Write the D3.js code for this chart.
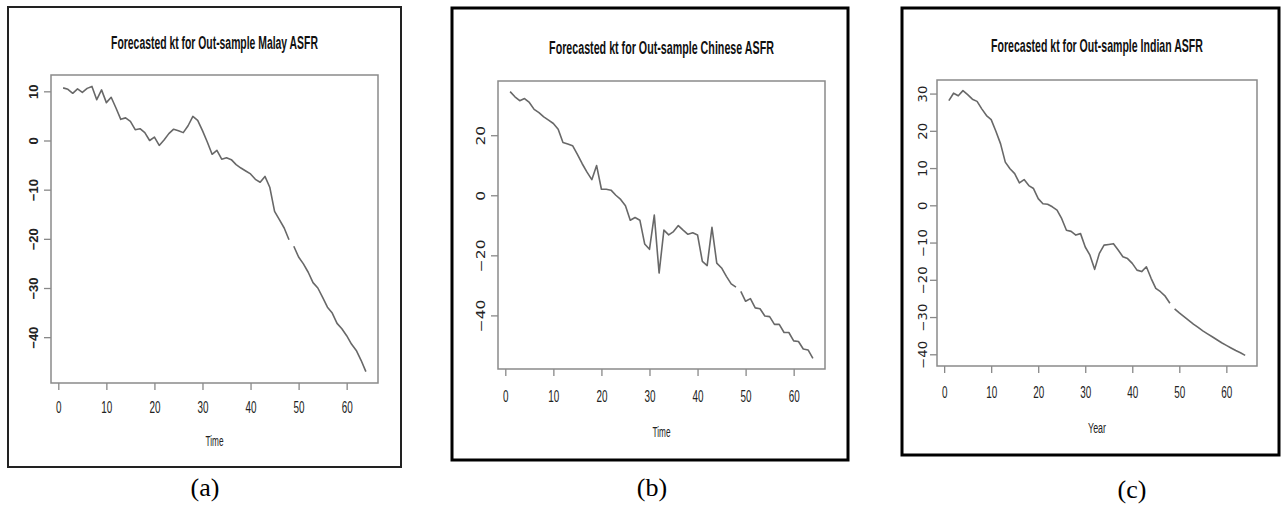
<!doctype html>
<html>
<head>
<meta charset="utf-8">
<title>Forecasted kt for Out-sample ASFR</title>
<script src="https://d3js.org/d3.v7.min.js"></script>
<style>
  body { margin: 0; background: #fff; }
  svg { display: block; }
</style>
</head>
<body>
<svg width="1281" height="506"></svg>
<script>
// kt values: in-sample part is t = 1..48, forecast part is t = 49..64
const malayActual = [10.7, 10.4, 9.6, 10.5, 9.8, 10.6, 11.0, 8.3, 10.3, 7.7, 8.8, 6.6,
  4.3, 4.6, 3.9, 2.2, 2.4, 1.6, 0.0, 0.7, -1.0, 0.1, 1.4, 2.3,
  2.0, 1.6, 3.0, 4.9, 4.1, 2.0, -0.3, -2.8, -2.0, -3.8, -3.5, -3.9,
  -4.9, -5.6, -6.2, -6.8, -7.9, -8.5, -7.3, -9.5, -14.4, -16.1, -17.8, -20.2];
const malayForecast = [-21.5, -23.7, -25.1, -26.8, -28.9, -30.0, -31.9, -33.9,
  -35.1, -37.2, -38.3, -39.7, -41.4, -42.7, -44.7, -47.0];

const chineseActual = [34.5, 32.8, 31.5, 32.2, 30.9, 28.6, 27.5, 26.1, 25.0, 23.9, 22.0, 17.6,
  17.1, 16.5, 13.6, 10.5, 7.7, 5.2, 9.9, 2.0, 2.0, 1.7, 0.0, -1.4,
  -3.5, -8.3, -7.4, -8.3, -16.2, -18.0, -6.6, -25.9, -11.6, -13.2, -12.1, -10.1,
  -11.6, -13.0, -12.5, -13.2, -22.0, -23.4, -10.7, -22.6, -24.2, -27.0, -29.5, -30.6];
const chineseForecast = [-32.0, -35.3, -34.4, -37.5, -37.8, -40.2, -40.4, -43.0,
  -43.0, -45.7, -45.7, -48.5, -48.7, -51.2, -51.5, -54.3];

const indianActual = [28.1, 30.1, 29.4, 30.8, 29.7, 28.5, 27.9, 25.9, 24.1, 23.0, 19.9, 16.5,
  11.6, 9.8, 8.5, 6.0, 6.9, 5.3, 4.5, 1.8, 0.4, 0.3, -0.4, -1.3,
  -3.6, -6.7, -7.0, -8.0, -7.6, -11.2, -13.4, -17.2, -12.9, -10.7, -10.5, -10.3,
  -12.0, -13.8, -14.3, -15.6, -17.4, -17.8, -16.5, -19.6, -22.3, -23.2, -24.4, -26.3];
const indianForecast = [-27.8, -28.9, -29.9, -30.9, -31.9, -32.8, -33.7, -34.5,
  -35.3, -36.1, -36.9, -37.6, -38.3, -39.0, -39.6, -40.3];

const xTicks = [0, 10, 20, 30, 40, 50, 60];
const malayYTicks = [-40, -30, -20, -10, 0, 10];
const chineseYTicks = [-40, -20, 0, 20];
const indianYTicks = [-40, -30, -20, -10, 0, 10, 20, 30];

const titles = ["Forecasted kt for Out-sample Malay ASFR",
  "Forecasted kt for Out-sample Chinese ASFR",
  "Forecasted kt for Out-sample Indian ASFR"];
const xLabels = ["Time", "Time", "Year"];
const captions = ["(a)", "(b)", "(c)"];

// page layout of the three panels
const panels = [
  {actual: malayActual, forecast: malayForecast, yTicks: malayYTicks,
   frame: [8, 7, 393, 460], frameW: 2, frameC: "#222",
   box: [51, 75, 378, 383], titleY: 49, titleW: 207,
   tickLabY: 30, xLabY: 446, yLabX: 33, yFont: "Liberation Sans", yWeight: "bold", yFs: 13, yStretch: 1.0,
   capX: 205, capY: 496},
  {actual: chineseActual, forecast: chineseForecast, yTicks: chineseYTicks,
   frame: [452, 8, 396, 452], frameW: 3, frameC: "#000",
   box: [498, 81, 825, 369], titleY: 54, titleW: 225,
   tickLabY: 33, xLabY: 437, yLabX: 481, yFont: "DejaVu Sans", yWeight: "normal", yFs: 11.5, yStretch: 1.35,
   capX: 652, capY: 496},
  {actual: indianActual, forecast: indianForecast, yTicks: indianYTicks,
   frame: [902, 8, 377, 447], frameW: 3, frameC: "#000",
   box: [937, 80, 1257, 366], titleY: 52, titleW: 212,
   tickLabY: 32, xLabY: 433, yLabX: 923, yFont: "DejaVu Sans", yWeight: "normal", yFs: 11.5, yStretch: 1.15,
   capX: 1132, capY: 498}
];

const svg = d3.select("svg");

// squeeze a text horizontally to a given width (the plots look narrowed)
function squeeze(sel, w) {
  const natural = sel.node().getComputedTextLength();
  sel.attr("transform", "scale(" + (w / natural) + ",1)");
}

panels.forEach(function(p, k) {
  const g = svg.append("g");
  const [bx0, by0, bx1, by1] = p.box;

  // outer frame
  g.append("rect")
    .attr("x", p.frame[0]).attr("y", p.frame[1])
    .attr("width", p.frame[2]).attr("height", p.frame[3])
    .attr("fill", "none")
    .attr("stroke", p.frameC)
    .attr("stroke-width", p.frameW);

  // R style domains: data range padded by 4%
  const n = p.actual.length + p.forecast.length;
  const xPad = 0.04 * (n - 1);
  const x = d3.scaleLinear().domain([1 - xPad, n + xPad]).range([bx0, bx1]);
  const ext = d3.extent(p.actual.concat(p.forecast));
  const yPad = 0.04 * (ext[1] - ext[0]);
  const y = d3.scaleLinear().domain([ext[0] - yPad, ext[1] + yPad]).range([by1, by0]);

  // x axis
  const xa = g.append("g")
    .attr("transform", "translate(0," + by1 + ")")
    .call(d3.axisBottom(x).tickValues(xTicks).tickSize(7).tickSizeOuter(0));
  xa.select(".domain").remove();
  xa.selectAll("line").attr("stroke", "#888").attr("stroke-width", 1.3);
  xa.selectAll("text")
    .attr("y", p.tickLabY)
    .attr("dy", null)
    .attr("transform", "scale(0.6,1)")
    .attr("fill", "#222")
    .style("font-family", "Liberation Sans, Arial, sans-serif")
    .style("font-size", "16.5px");

  // y axis
  const ya = g.append("g")
    .attr("transform", "translate(" + bx0 + ",0)")
    .call(d3.axisLeft(y).tickValues(p.yTicks).tickSize(7).tickSizeOuter(0));
  ya.select(".domain").remove();
  ya.selectAll("line").attr("stroke", "#888").attr("stroke-width", 1.3);
  ya.selectAll("text")
    .attr("x", null)
    .attr("dy", "0.36em")
    .attr("text-anchor", "middle")
    .attr("transform", "translate(" + (p.yLabX - bx0) + ",0) rotate(-90) scale(" + p.yStretch + ",1)")
    .attr("fill", "#222")
    .style("font-family", p.yFont + ", sans-serif")
    .style("font-weight", p.yWeight)
    .style("font-size", p.yFs + "px");

  // plot box
  g.append("rect")
    .attr("x", bx0).attr("y", by0)
    .attr("width", bx1 - bx0).attr("height", by1 - by0)
    .attr("fill", "none")
    .attr("stroke", "#8a8a8a")
    .attr("stroke-width", 1.5);

  // series: in-sample and forecast drawn as separate lines
  const line = d3.line()
    .x(d => x(d.t))
    .y(d => y(d.v));
  const actualPts = p.actual.map((v, i) => ({t: i + 1, v: v}));
  const forecastPts = p.forecast.map((v, i) => ({t: p.actual.length + i + 1, v: v}));
  [actualPts, forecastPts].forEach(function(pts) {
    g.append("path")
      .datum(pts)
      .attr("d", line)
      .attr("fill", "none")
      .attr("stroke", "#686868")
      .attr("stroke-width", 1.6)
      .attr("stroke-linejoin", "round");
  });

  const cx = (bx0 + bx1) / 2;

  // title
  const title = g.append("g")
    .attr("transform", "translate(" + cx + "," + p.titleY + ")")
    .append("text")
    .attr("text-anchor", "middle")
    .style("font-family", "Liberation Sans, Arial, sans-serif")
    .style("font-weight", "bold")
    .style("font-size", "19px")
    .attr("fill", "#111")
    .text(titles[k]);
  squeeze(title, p.titleW);

  // x label
  const xl = g.append("g")
    .attr("transform", "translate(" + cx + "," + p.xLabY + ")")
    .append("text")
    .attr("text-anchor", "middle")
    .style("font-family", "Liberation Sans, Arial, sans-serif")
    .style("font-size", "15px")
    .attr("fill", "#222")
    .text(xLabels[k]);
  squeeze(xl, 18);

  // caption under the frame
  svg.append("text")
    .attr("x", p.capX).attr("y", p.capY)
    .attr("text-anchor", "middle")
    .style("font-family", "Liberation Serif, Times New Roman, serif")
    .style("font-size", "26px")
    .attr("fill", "#000")
    .text(captions[k]);
});
</script>
</body>
</html>
